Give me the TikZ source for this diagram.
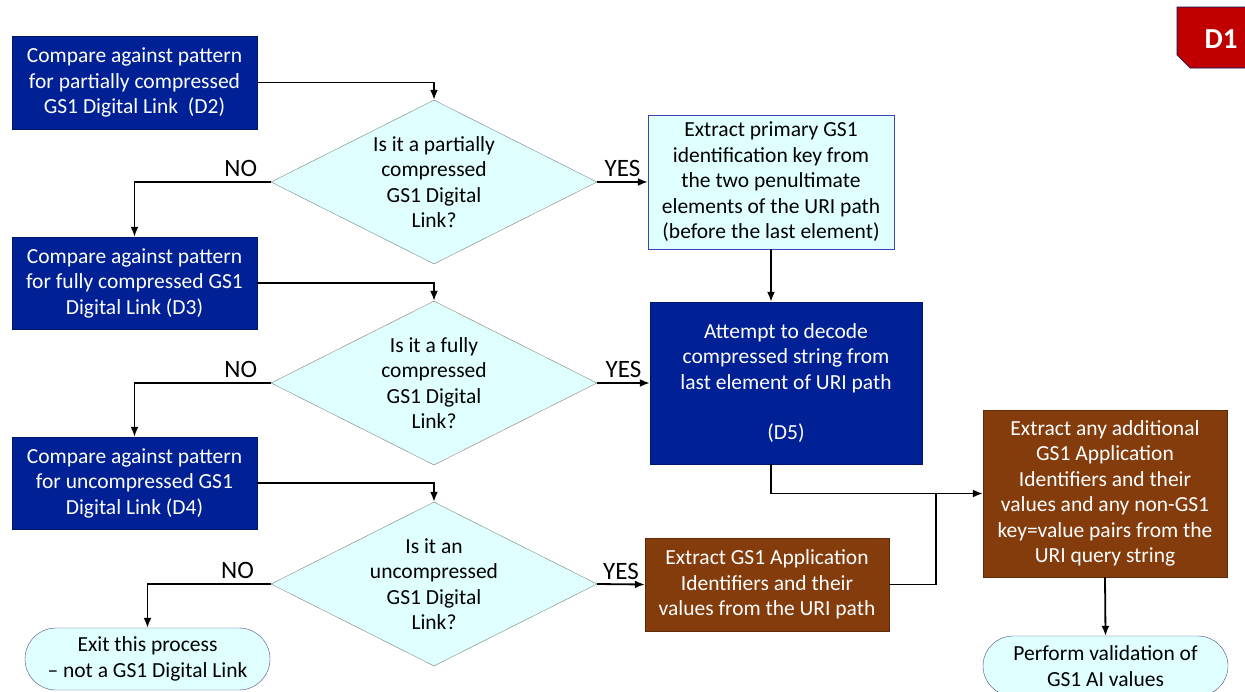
\documentclass[tikz,border=0pt]{standalone}
\usepackage{fontspec}
\setmainfont{Carlito}
\usetikzlibrary{
  calc,shapes.geometric,shapes.misc,positioning,
  arrows,arrows.meta
}
\definecolor{navybox}{RGB}{0,32,150}
\definecolor{brownbox}{RGB}{132,60,12}
\definecolor{paleaqua}{RGB}{224,255,255}
\definecolor{tagred}{RGB}{192,0,0}

\begin{document}
\begin{tikzpicture}[x=1pt,y=-1pt,
  every node/.style={font=\fontsize{21.5}{25.5}\selectfont,align=center,inner sep=0pt},
  darkbox/.style={fill=navybox,draw=navybox!70!black,text=white,minimum width=245pt},
  brownstep/.style={fill=brownbox,draw=brownbox!70!black,text=white},
  lightbox/.style={fill=paleaqua,draw=blue!50!gray,text=black},
  decision/.style={diamond,aspect=2,fill=paleaqua,draw=gray,minimum width=326pt,minimum height=164pt},
  terminal/.style={rounded rectangle,fill=paleaqua,draw=blue!30!black!70,minimum width=245pt},
  flow/.style={-{Latex[length=10pt,width=8pt]},line width=1.8pt},
  answer/.style={font=\fontsize{25}{28}\selectfont}
]
\useasboundingbox (0,0) rectangle (1245,691);

% left column: pattern checks
\node[darkbox,minimum height=93pt] (cmpA) at (134.5,82.5)
  {Compare against pattern\\for partially compressed\\GS1 Digital Link\ \ (D2)};
\node[darkbox,minimum height=92pt] (cmpB) at (134.5,283)
  {Compare against pattern\\for fully compressed GS1\\Digital Link (D3)};
\node[darkbox,minimum height=92pt] (cmpC) at (134.5,483)
  {Compare against pattern\\for uncompressed GS1\\Digital Link (D4)};

% decisions
\node[decision] (qA) at (434,182) {Is it a partially\\compressed\\GS1 Digital\\Link?};
\node[decision] (qB) at (434,383) {Is it a fully\\compressed\\GS1 Digital\\Link?};
\node[decision] (qC) at (434,584) {Is it an\\uncompressed\\GS1 Digital\\Link?};

% extraction steps
\node[lightbox,minimum width=246pt,minimum height=134pt] (keyX) at (771,182)
  {Extract primary GS1\\identification key from\\the two penultimate\\elements of the URI path\\(before the last element)};
\node[darkbox,minimum width=272pt,minimum height=162pt] (decode) at (786,383)
  {Attempt to decode\\compressed string from\\last element of URI path\\[25pt](D5)};
\node[brownstep,minimum width=244pt,minimum height=93pt] (aiX) at (767,584.5)
  {Extract GS1 Application\\Identifiers and their\\values from the URI path};
\node[brownstep,minimum width=244pt,minimum height=167pt] (moreX) at (1105,493.5)
  {Extract any additional\\GS1 Application\\Identifiers and their\\values and any non-GS1\\key=value pairs from the\\URI query string};

% end points
\node[terminal,minimum height=62pt] (quit) at (147.5,659)
  {Exit this process\\– not a GS1 Digital Link};
\node[terminal,minimum height=60pt] (check) at (1105.5,666)
  {Perform validation of\\GS1 AI values};

% tag
\draw[fill=tagred,draw=navybox!60!black,line width=0.6pt] (1177,7) -- (1246,7) -- (1246,68) -- (1190,68) -- (1177,55) -- cycle;
\node[text=white,font=\fontsize{29}{32}\bfseries] (tag) at (1221,39) {D1};

% connectors
\draw[flow] (cmpA.east) -| (qA.north);
\draw[flow] (cmpB.east) -| (qB.north);
\draw[flow] (cmpC.east) -| (qC.north);
\draw[flow] (qA.west) -| node[answer,pos=0.11,above=4pt] {NO} (cmpB.north);
\draw[flow] (qB.west) -| node[answer,pos=0.11,above=4pt] {NO} (cmpC.north);
\draw[flow] (qC.west) -| node[answer,pos=0.135,above=4pt] {NO} (quit.north);
\draw[flow] (qA.east) -- node[answer,above=4pt] {YES} (keyX.west);
\draw[flow] (qB.east) -- node[answer,above=4pt] {YES} (decode.west);
\draw[flow] (qC.east) -- node[answer,above=4pt] {YES} (aiX.west);
\draw[flow] (keyX.south) -- (keyX.south |- decode.north);
\coordinate (merge) at ($(moreX.west)+(-47,0)$);
\draw[flow] (keyX.south |- decode.south) |- (moreX.west);
\draw[line width=1.8pt] (aiX.east) -| (merge);
\draw[flow] (moreX.south) -- (check.north);
\end{tikzpicture}
\end{document}
